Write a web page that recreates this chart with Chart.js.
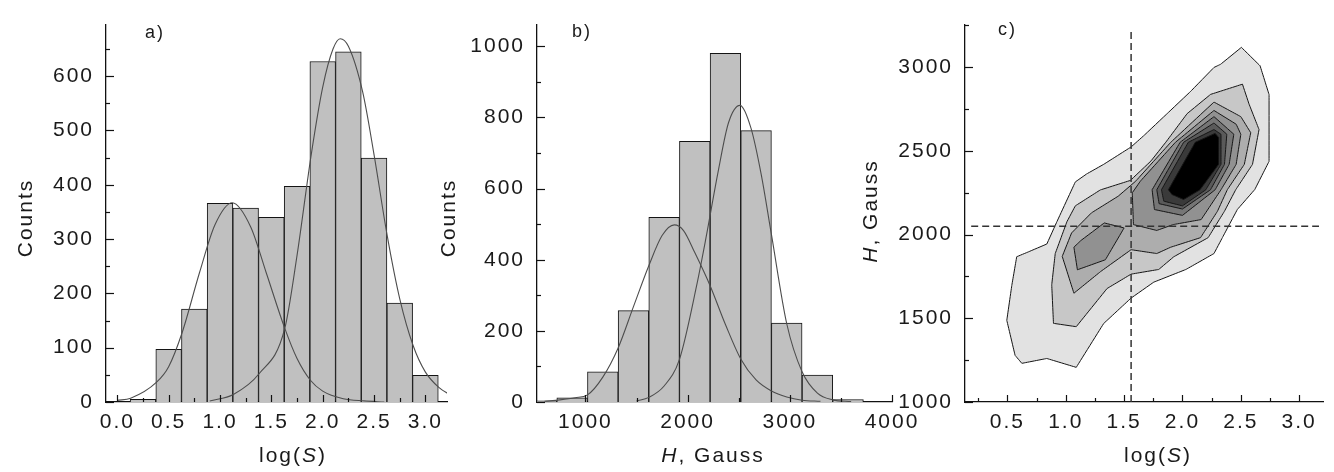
<!DOCTYPE html>
<html>
<head>
<meta charset="utf-8">
<script src="https://cdn.jsdelivr.net/npm/chart.js@4.4.1/dist/chart.umd.min.js"></script>
<style>
  html, body { margin: 0; padding: 0; background: #fff; }
  #wrap { position: relative; width: 1334px; height: 472px; overflow: hidden; background: #fff; }
  canvas { position: absolute; top: 0; }
</style>
</head>
<body>
<div id="wrap">
  <canvas id="chA" width="460" height="472" style="left:0px"></canvas>
  <canvas id="chB" width="490" height="472" style="left:440px"></canvas>
  <canvas id="chC" width="474" height="472" style="left:860px"></canvas>
</div>
<script>
/* three panels: two histograms with gaussian fits, one contour map */

// ---- panel a : log(S) histogram
const aBins = [0.25, 0.5, 0.75, 1.0, 1.25, 1.5, 1.75, 2.0, 2.25, 2.5, 2.75, 3.0];
const aCounts = [5, 97, 171, 366, 357, 340, 397, 627, 645, 449, 182, 49];
const aFitLow = [[0.0, 3], [0.13, 7], [0.38, 36], [0.5, 65], [0.63, 127], [0.8, 238], [0.95, 326], [1.12, 367],
  [1.3, 322], [1.45, 238], [1.63, 136], [1.75, 80], [1.88, 40], [2.0, 20], [2.2, 6], [2.4, 2], [2.6, 0]];
const aFitHigh = [[0.9, 2], [1.13, 14], [1.38, 52], [1.63, 135], [1.75, 270], [1.89, 458], [2.0, 580], [2.1, 650],
  [2.17, 669], [2.25, 655], [2.39, 570], [2.5, 455], [2.63, 304], [2.75, 190], [2.88, 104], [3.0, 55], [3.13, 27], [3.25, 12]];
const aTicksX = [0.0, 0.5, 1.0, 1.5, 2.0, 2.5, 3.0];
const aTicksY = [0, 100, 200, 300, 400, 500, 600];

// ---- panel b : H histogram
const bBins = [570, 870, 1170, 1470, 1770, 2070, 2370, 2670, 2970, 3270, 3570];
const bCounts = [3, 12, 85, 257, 519, 733, 980, 763, 222, 76, 7];
const bFitLow = [[600, 2], [750, 6], [900, 12], [1020, 20], [1170, 70], [1320, 152], [1470, 268], [1620, 383],
  [1750, 468], [1870, 498], [1960, 482], [2070, 420], [2220, 327], [2370, 218], [2520, 121], [2670, 62],
  [2820, 31], [2970, 14], [3120, 5], [3300, 2]];
const bFitHigh = [[1500, 3], [1620, 13], [1770, 45], [1920, 120], [2090, 330], [2180, 462], [2300, 650], [2400, 785],
  [2512, 834], [2620, 770], [2720, 640], [2820, 471], [2970, 220], [3120, 85], [3270, 25], [3420, 6], [3600, 1]];
const bTicksX = [1000, 2000, 3000, 4000];
const bTicksY = [0, 200, 400, 600, 800, 1000];

// ---- panel c : contour levels, outermost first, [log(S), H]
const cLevel1 = [[2.505, 3119], [2.665, 3009], [2.742, 2837], [2.742, 2438], [2.62, 2270], [2.47, 2150], [2.342, 1982],
  [2.27, 1887], [2.03, 1792], [1.754, 1716], [1.56, 1621], [1.325, 1469], [1.09, 1207], [0.838, 1260], [0.624, 1231],
  [0.566, 1279], [0.495, 1488], [0.538, 1697], [0.58, 1868], [0.68, 1897], [0.838, 1944], [0.924, 2077], [1.082, 2315],
  [1.18, 2363], [1.325, 2420], [1.56, 2524], [1.668, 2591], [1.87, 2724], [2.07, 2856], [2.27, 2999], [2.327, 3018]];
const cLevel2 = [[2.514, 2899], [2.57, 2781], [2.656, 2628], [2.60, 2420], [2.456, 2268], [2.36, 2140], [2.22, 1982],
  [1.926, 1868], [1.797, 1792], [1.56, 1764], [1.354, 1678], [1.09, 1450], [0.895, 1470], [0.88, 1700], [0.91, 1887],
  [1.01, 2077], [1.082, 2172], [1.296, 2267], [1.554, 2324], [1.73, 2440], [1.857, 2552], [2.04, 2723], [2.241, 2838]];
const cLevel3 = [[1.07, 1650], [1.30, 1780], [1.56, 1910], [1.78, 1887], [1.90, 1925], [2.155, 1982], [2.30, 2140],
  [2.384, 2268], [2.53, 2420], [2.585, 2609], [2.50, 2705], [2.27, 2792], [1.90, 2552], [1.60, 2320], [1.45, 2230],
  [1.22, 2130], [1.05, 2010], [0.97, 1870]];
const cLevel4Left = [[1.07, 1925], [1.10, 1790], [1.34, 1850], [1.50, 2040], [1.33, 2070], [1.13, 1965]];
const cLevel4Right = [[1.57, 2250], [1.58, 2060], [1.78, 2025], [1.92, 2060], [2.16, 2090], [2.33, 2268], [2.46, 2420],
  [2.50, 2600], [2.46, 2660], [2.27, 2742], [1.94, 2552], [1.64, 2320]];
const cLevel5 = [[2.00, 2115], [1.76, 2150], [1.74, 2268], [1.98, 2552], [2.27, 2705], [2.44, 2600], [2.40, 2420], [2.28, 2268]];
const cLevel6 = [[2.00, 2153], [1.80, 2185], [1.78, 2268], [2.01, 2552], [2.27, 2667], [2.38, 2600], [2.36, 2420], [2.24, 2268]];
const cLevel7 = [[2.00, 2172], [1.84, 2200], [1.82, 2268], [2.05, 2552], [2.27, 2628], [2.33, 2600], [2.33, 2420], [2.20, 2268]];
const cLevel8 = [[2.01, 2210], [1.91, 2240], [1.88, 2268], [2.11, 2552], [2.28, 2605], [2.31, 2580], [2.31, 2420], [2.15, 2268]];
const cSplitLogS = 1.56;
const cSplitH = 2050;
const cTicksX = [0.5, 1.0, 1.5, 2.0, 2.5, 3.0];
const cTicksY = [1000, 1500, 2000, 2500, 3000];

const FONT = "'Liberation Sans', Arial, sans-serif";
const INK = "#1a1a1a";
const SPACING = "2px";

// wider letter spacing, like the original figure
const spacing = {
    id: "spacing",
    beforeLayout(chart) { chart.ctx.letterSpacing = SPACING; },
    beforeDraw(chart) { chart.ctx.letterSpacing = SPACING; }
};

function halfSteps(major) {
    const step = major[1] - major[0];
    const out = [];
    for (let v = major[0] - step / 2; v <= major[major.length - 1] + step / 2 + 1e-9; v += step) out.push(v);
    return out;
}

// tick marks pointing into the plot, long major / short minor
const inwardTicks = {
    id: "inwardTicks",
    afterDraw(chart, args, o) {
        const {ctx, chartArea} = chart;
        const xs = chart.scales.x, ys = chart.scales.y;
        ctx.save();
        ctx.strokeStyle = "#111";
        ctx.lineWidth = 1.2;
        const doX = (vals, len) => vals.forEach(v => {
            const px = Math.round(xs.getPixelForValue(v)) + 0.5;
            if (px < chartArea.left - 0.5 || px > chartArea.right + 0.5) return;
            ctx.beginPath(); ctx.moveTo(px, chartArea.bottom); ctx.lineTo(px, chartArea.bottom - len); ctx.stroke();
        });
        const doY = (vals, len) => vals.forEach(v => {
            const py = Math.round(ys.getPixelForValue(v)) + 0.5;
            if (py < chartArea.top - 0.5 || py > chartArea.bottom + 0.5) return;
            ctx.beginPath(); ctx.moveTo(chartArea.left, py); ctx.lineTo(chartArea.left + len, py); ctx.stroke();
        });
        doX(o.x, 7); doX(halfSteps(o.x), 4);
        doY(o.y, 8); doY(halfSteps(o.y), 4);
        ctx.restore();
    }
};

function rich(ctx, parts, x, y, angle) {
    ctx.save();
    ctx.translate(x, y);
    ctx.rotate(angle);
    const fonts = parts.map(p => (p[1] ? "italic " : "") + "21px " + FONT);
    let total = 0;
    const widths = parts.map((p, i) => {
        ctx.font = fonts[i];
        const w = ctx.measureText(p[0]).width;
        total += w;
        return w;
    });
    let cx = -total / 2;
    ctx.textAlign = "left";
    parts.forEach((p, i) => { ctx.font = fonts[i]; ctx.fillText(p[0], cx, 0); cx += widths[i]; });
    ctx.restore();
}

// panel letter and axis titles (with italic symbols)
const panelText = {
    id: "panelText",
    afterDraw(chart, args, o) {
        const ctx = chart.ctx;
        ctx.save();
        ctx.letterSpacing = SPACING;
        ctx.fillStyle = INK;
        ctx.textBaseline = "alphabetic";
        ctx.textAlign = "left";
        ctx.font = "18px " + FONT;
        ctx.fillText(o.tag, o.tagX, o.tagY);
        rich(ctx, o.xTitle, o.xTitleX, o.xTitleY, 0);
        rich(ctx, o.yTitle, o.yTitleX, o.yTitleY, -Math.PI / 2);
        ctx.restore();
    }
};

function axis(min, max, ticks, fmt, isX, size, pad) {
    return {
        type: "linear", min: min, max: max, offset: false,
        afterBuildTicks: s => { s.ticks = ticks.map(v => ({value: v})); },
        afterFit: s => { if (isX) s.height = size; else s.width = size; },
        grid: {display: false, drawTicks: false},
        border: {display: true, color: "#111", width: 1.3},
        ticks: {
            padding: pad, color: INK, autoSkip: false, maxRotation: 0,
            font: {family: FONT, size: 21},
            callback: v => fmt(v)
        },
        title: {display: false}
    };
}

const pts = arr => arr.map(p => ({x: p[0], y: p[1]}));

function fitLine(arr) {
    return {
        type: "line", data: pts(arr), borderColor: "#4d4d4d", borderWidth: 1.1,
        pointRadius: 0, fill: false, cubicInterpolationMode: "monotone", order: 0
    };
}

function histBars(bins, counts) {
    return {
        type: "bar", data: bins.map((x, i) => ({x: x, y: counts[i]})),
        backgroundColor: "#c0c0c0", borderColor: "#141414", borderWidth: 1,
        barPercentage: 1, categoryPercentage: 1, order: 1
    };
}

const common = {responsive: false, animation: false, devicePixelRatio: 1, events: []};

new Chart(document.getElementById("chA"), {
    type: "bar",
    data: {datasets: [histBars(aBins, aCounts), fitLine(aFitLow), fitLine(aFitHigh)]},
    options: Object.assign({}, common, {
        layout: {padding: {left: 0, top: 9, right: 13, bottom: 0}},
        plugins: {
            legend: {display: false}, tooltip: {enabled: false},
            inwardTicks: {x: aTicksX, y: aTicksY},
            panelText: {
                tag: "a)", tagX: 145, tagY: 38,
                xTitle: [["log(", 0], ["S", 1], [")", 0]], xTitleX: 293, xTitleY: 462,
                yTitle: [["Counts", 0]], yTitleX: 32, yTitleY: 218
            }
        },
        scales: {
            x: axis(-0.11, 3.21, aTicksX, v => v.toFixed(1), true, 70, 8),
            y: axis(0, 695, aTicksY, v => String(v), false, 106, 12)
        }
    }),
    plugins: [spacing, inwardTicks, panelText]
});

new Chart(document.getElementById("chB"), {
    type: "bar",
    data: {datasets: [histBars(bBins, bCounts), fitLine(bFitLow), fitLine(bFitHigh)]},
    options: Object.assign({}, common, {
        layout: {padding: {left: 0, top: 8, right: 38, bottom: 0}},
        plugins: {
            legend: {display: false}, tooltip: {enabled: false},
            inwardTicks: {x: bTicksX, y: bTicksY},
            panelText: {
                tag: "b)", tagX: 132, tagY: 37,
                xTitle: [["H", 1], [", Gauss", 0]], xTitleX: 273, xTitleY: 462,
                yTitle: [["Counts", 0]], yTitleX: 15, yTitleY: 218
            }
        },
        scales: {
            x: axis(526, 4000, bTicksX, v => String(v), true, 70, 8),
            y: axis(0, 1061, bTicksY, v => String(v), false, 97, 12)
        }
    }),
    plugins: [spacing, inwardTicks, panelText]
});

const cLevels = [cLevel1, cLevel2, cLevel3, cLevel4Left, cLevel4Right, cLevel5, cLevel6, cLevel7, cLevel8];
const cShades = ["#e2e2e2", "#c7c7c7", "#adadad", "#919191", "#919191", "#767676", "#5a5a5a", "#3a3a3a", "#000000"];

// tiny tension keeps the normal path (the fast path doubles vertical strokes)
const contourSets = cLevels.map((poly, i) => ({
    data: pts(poly.concat([poly[0]])),
    fill: "shape", backgroundColor: cShades[i],
    borderColor: "#151515", borderWidth: 1, pointRadius: 0, tension: 0.0001,
    order: 20 - i
}));

const dashed = (a, b) => ({
    data: [a, b], borderColor: "#333", borderWidth: 1.5, borderDash: [7, 4],
    pointRadius: 0, fill: false, order: 0
});

new Chart(document.getElementById("chC"), {
    type: "line",
    data: {
        datasets: contourSets.concat([
            dashed({x: cSplitLogS, y: 1000}, {x: cSplitLogS, y: 3225}),
            dashed({x: 0.19, y: cSplitH}, {x: 3.17, y: cSplitH})
        ])
    },
    options: Object.assign({}, common, {
        layout: {padding: {left: 0, top: 7, right: 11, bottom: 0}},
        plugins: {
            legend: {display: false}, tooltip: {enabled: false},
            inwardTicks: {x: cTicksX, y: cTicksY},
            panelText: {
                tag: "c)", tagX: 138, tagY: 35,
                xTitle: [["log(", 0], ["S", 1], [")", 0]], xTitleX: 298, xTitleY: 462,
                yTitle: [["H", 1], [", Gauss", 0]], yTitleX: 17, yTitleY: 211
            }
        },
        scales: {
            x: axis(0.137, 3.204, cTicksX, v => v.toFixed(1), true, 70, 8),
            y: axis(1000, 3255, cTicksY, v => String(v), false, 105, 12)
        }
    }),
    plugins: [spacing, inwardTicks, panelText]
});
</script>
</body>
</html>
